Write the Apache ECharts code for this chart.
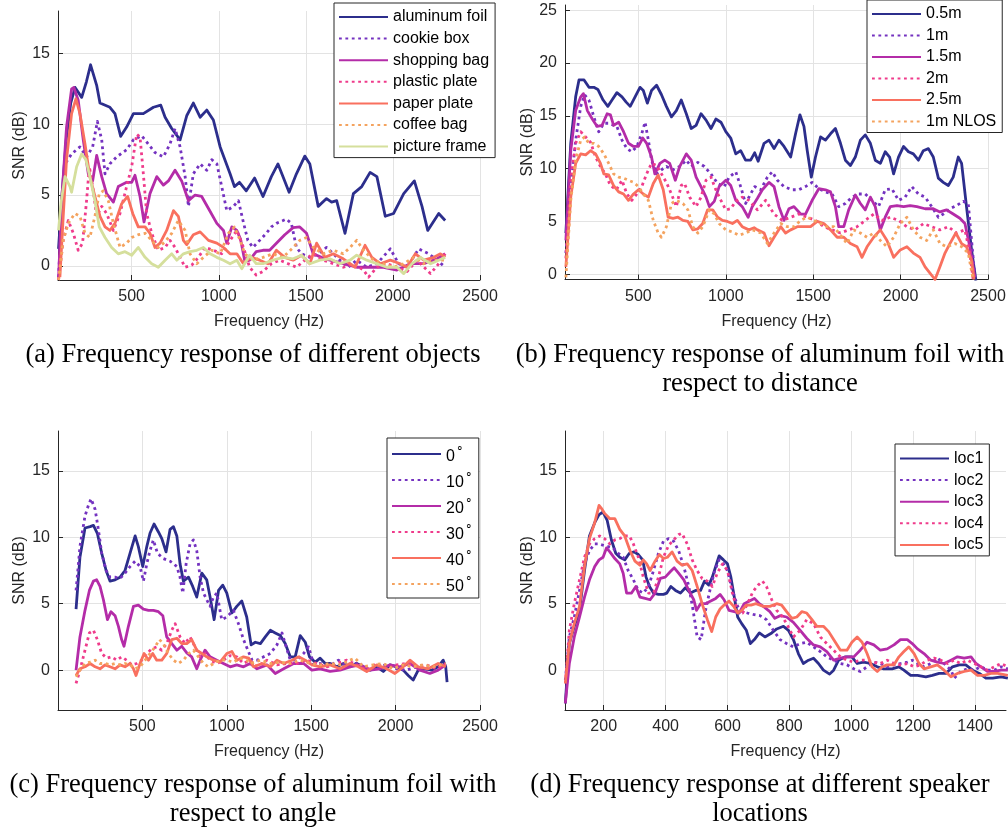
<!DOCTYPE html>
<html>
<head>
<meta charset="utf-8">
<script src="https://cdn.jsdelivr.net/npm/echarts@6/dist/echarts.min.js"></script>
<style>
  html, body { margin: 0; padding: 0; background: #fff; }
  #chart { width: 1008px; height: 832px; }
</style>
</head>
<body>
<div id="chart"></div>
<script>
// ---- (a) different objects: [frequency Hz, SNR dB]
const aluminumFoil = [[80,1.2],[100,5],[125,9],[150,11.5],[175,12.6],[185,12.7],[213,11.9],[240,13],[264,14.2],[299,12.75],[318,11.5],[375,11.2],[404,10.75],[437,9.15],[471,9.8],[510,10.75],[567,10.75],[625,11.2],[667,11.35],[692,10.5],[730,9.7],[778,8.9],[816,10.6],[854,11.5],[893,10.5],[931,11.0],[969,10.3],[1008,8.4],[1065,6.5],[1090,5.6],[1119,5.9],[1158,5.3],[1206,6.2],[1254,4.9],[1302,6.3],[1340,7.2],[1369,6.3],[1404,5.2],[1446,6.5],[1494,7.75],[1523,7.2],[1571,4.2],[1619,4.75],[1648,4.5],[1677,4.6],[1725,2.3],[1773,5.1],[1821,5.6],[1869,6.6],[1908,6.3],[1956,3.5],[2004,3.7],[2062,5.1],[2123,6.0],[2167,4.2],[2200,2.5],[2263,3.7],[2300,3.2]];
const cookieBox = [[80,-0.8],[95,3],[117,7.2],[155,7.9],[203,8.4],[241,7.7],[276,8.4],[303,10.2],[328,8.9],[347,6.5],[375,7.2],[414,7.7],[471,8.2],[510,8.9],[557,9.2],[596,8.6],[634,8.0],[682,7.7],[720,8.6],[749,9.7],[778,8.4],[807,6.3],[826,4.2],[854,6.5],[893,7.2],[931,6.75],[960,7.5],[989,7.2],[1017,5.6],[1046,3.9],[1084,4.2],[1113,4.6],[1139,3.2],[1167,1.8],[1196,1.3],[1235,1.8],[1273,2.3],[1302,2.75],[1331,3.0],[1388,3.3],[1417,3.0],[1446,1.3],[1475,0.85],[1523,0.6],[1571,0.85],[1619,1.3],[1658,0.85],[1696,0.4],[1744,-0.1],[1792,0.4],[1850,-0.1],[1908,0.15],[1985,1.2],[2033,0.15],[2081,-0.1],[2148,1.2],[2206,0.85],[2254,0.4],[2300,-0.1]];
const shoppingBag = [[80,-1],[98,4.6],[126,9.8],[155,12.5],[168,12.6],[193,11.7],[222,8.9],[251,6.5],[276,6.0],[299,7.8],[328,6.3],[356,5.1],[395,4.5],[423,5.6],[471,5.9],[500,5.9],[519,6.4],[548,4.9],[571,3.1],[605,5.1],[644,6.3],[682,5.7],[711,6.0],[749,6.75],[787,6.0],[826,4.6],[864,5.0],[902,4.9],[941,4.05],[989,3.0],[1027,2.5],[1046,1.6],[1075,2.75],[1104,2.5],[1125,1.9],[1150,0.3],[1177,0.4],[1215,1.0],[1254,1.1],[1292,1.1],[1331,1.6],[1379,2.2],[1427,2.7],[1465,2.75],[1504,2.3],[1542,0.85],[1590,0.6],[1638,0.4],[1715,0.15],[1792,-0.1],[1869,-0.1],[1946,-0.1],[2023,-0.3],[2100,0.15],[2177,0.15],[2254,0.5],[2300,0.85]];
const plasticPlate = [[80,-1],[107,1.8],[136,3.2],[165,2.3],[193,1.1],[218,1.6],[241,4.6],[257,7.0],[276,5.6],[299,3.5],[328,4.2],[356,3.7],[395,2.5],[433,3.7],[471,5.6],[500,7.0],[529,9.3],[548,9.1],[567,6.5],[586,3.7],[615,2.3],[653,1.1],[692,1.3],[720,1.8],[749,1.3],[778,0.6],[807,-0.1],[845,0.05],[883,0.6],[921,1.3],[969,1.1],[1017,0.85],[1065,1.8],[1104,2.5],[1142,1.3],[1177,-0.1],[1215,-0.65],[1254,-0.4],[1302,0.15],[1350,0.4],[1398,0.15],[1446,-0.1],[1494,0.4],[1542,0.85],[1600,0.4],[1658,0.15],[1715,-0.1],[1773,0.15],[1831,-0.3],[1860,-0.8],[1908,-0.1],[1965,0.15],[2023,-0.1],[2081,-0.4],[2139,0.4],[2216,-0.55],[2263,0.15],[2300,0.85]];
const paperPlate = [[88,-0.8],[107,3.5],[126,7.5],[155,10.75],[180,11.8],[203,10.75],[232,8.6],[260,6.3],[289,4.9],[318,3.5],[347,2.75],[375,2.5],[404,3.0],[443,4.4],[477,4.9],[506,3.7],[538,2.75],[577,2.75],[605,2.3],[634,1.3],[663,1.6],[701,2.5],[740,3.9],[768,3.5],[797,1.8],[816,1.5],[854,2.2],[893,2.4],[941,1.8],[989,1.6],[1027,1.3],[1065,0.85],[1104,0.85],[1139,0.2],[1187,0.6],[1235,0.4],[1283,0.15],[1331,1.1],[1379,0.6],[1427,0.4],[1475,0.75],[1523,0.15],[1562,1.6],[1610,0.6],[1658,0.85],[1715,0.5],[1783,-0.1],[1840,1.45],[1879,0.6],[1927,0.15],[1985,0.4],[2042,0.15],[2081,-0.1],[2129,0.85],[2177,0.4],[2235,0.6],[2273,0.85],[2300,0.6]];
const coffeeBag = [[80,-1],[107,1.8],[136,3.0],[174,3.7],[203,3.5],[232,2.3],[260,2.0],[289,3.5],[314,5.1],[337,5.3],[366,4.6],[395,3.0],[433,1.3],[471,1.6],[500,2.0],[538,2.2],[577,2.3],[615,1.8],[653,1.3],[692,1.7],[730,2.3],[768,3.2],[807,2.5],[835,0.85],[874,0.15],[912,0.6],[960,1.1],[1008,0.85],[1056,2.3],[1090,2.75],[1123,1.8],[1150,0.85],[1196,0.4],[1254,0.6],[1312,0.85],[1369,0.6],[1427,1.3],[1465,1.8],[1504,2.0],[1542,1.3],[1600,0.85],[1658,1.1],[1715,0.85],[1754,1.3],[1792,1.8],[1831,1.1],[1888,0.4],[1946,0.15],[2004,-0.1],[2062,0.15],[2119,0.6],[2177,0.15],[2235,0.4],[2300,0.4]];
const pictureFrame = [[80,2.5],[95,4.5],[117,6.3],[146,5.6],[155,5.2],[184,7.0],[213,7.9],[237,7.5],[260,6.3],[289,4.6],[314,2.75],[347,2.0],[385,1.3],[423,0.85],[462,1.0],[500,0.75],[538,1.3],[577,0.6],[615,0.15],[653,-0.1],[692,0.4],[730,0.85],[759,0.4],[797,0.85],[835,1.0],[874,1.1],[912,1.3],[950,0.85],[989,0.6],[1027,0.4],[1065,0.15],[1104,0.4],[1132,-0.2],[1177,0.75],[1215,0.15],[1254,0.15],[1312,0.4],[1369,0.6],[1427,0.5],[1475,0.75],[1523,0.15],[1581,0.4],[1638,0.5],[1696,0.15],[1754,0.4],[1792,0.75],[1850,0.4],[1908,0.15],[1965,-0.1],[2023,-0.1],[2062,-0.55],[2110,0.15],[2158,0.6],[2216,0.15],[2263,0.4],[2300,0.6]];

// ---- (b) aluminum foil vs distance
const dist05 = [[85,3.9],[113,12.4],[141,16.8],[160,18.4],[189,18.4],[217,17.7],[245,17.7],[268,17.5],[298,16.5],[325,15.9],[349,16.5],[377,17.2],[406,16.8],[430,16.3],[453,15.9],[481,16.8],[509,17.7],[528,17.4],[551,16.2],[575,17.4],[604,17.9],[632,17.0],[660,15.9],[689,14.9],[717,15.5],[745,16.5],[774,15.2],[802,13.8],[830,14.1],[858,15.2],[887,14.6],[915,13.8],[943,14.7],[972,14.4],[1000,13.5],[1028,12.9],[1057,11.4],[1085,11.7],[1113,10.8],[1142,10.8],[1165,11.5],[1185,10.7],[1219,12.4],[1247,12.7],[1276,11.9],[1304,12.7],[1333,12.1],[1371,11.1],[1399,13.3],[1424,15.1],[1447,14.0],[1466,11.7],[1489,9.2],[1513,11.1],[1542,13.0],[1570,12.7],[1599,13.3],[1627,13.8],[1656,12.4],[1684,10.8],[1713,10.3],[1741,11.1],[1770,12.7],[1798,13.2],[1827,12.4],[1855,10.8],[1884,10.5],[1912,11.6],[1937,11.1],[1960,9.5],[1988,11.1],[2017,12.1],[2045,11.6],[2073,11.4],[2102,10.8],[2130,11.7],[2159,11.9],[2187,11.1],[2216,9.1],[2244,8.7],[2273,8.4],[2301,9.2],[2330,11.1],[2349,10.5],[2377,6.4],[2406,2.3],[2431,-0.6]];
const dist1 = [[85,2],[113,8.3],[141,12.7],[170,15.9],[192,17.0],[217,16.5],[245,14.9],[273,13.5],[302,14.3],[330,14.3],[377,14.0],[406,12.7],[434,11.9],[462,11.6],[491,12.1],[519,13.3],[538,14.4],[557,12.7],[575,10.8],[604,9.5],[632,9.9],[660,10.2],[698,9.9],[736,10.2],[774,10.8],[802,10.2],[840,10.6],[877,10.2],[915,9.5],[953,8.6],[991,8.3],[1019,9.2],[1057,9.7],[1085,8.3],[1113,6.7],[1142,7.6],[1165,8.3],[1200,8.0],[1238,9.2],[1266,9.7],[1295,8.9],[1333,8.3],[1380,8.0],[1418,8.0],[1456,8.3],[1494,8.7],[1532,8.1],[1570,7.8],[1608,7.6],[1646,6.4],[1684,6.7],[1722,7.3],[1760,7.6],[1798,7.6],[1836,7.0],[1874,6.4],[1912,8.0],[1950,8.1],[1988,7.0],[2026,7.3],[2064,8.3],[2102,7.6],[2140,7.3],[2178,6.4],[2216,5.4],[2244,5.7],[2282,6.2],[2320,6.5],[2358,6.9],[2387,6.7],[2406,3.2],[2425,-0.3]];
const dist15 = [[85,3.2],[113,11.7],[141,15.5],[170,16.8],[185,17.1],[208,15.5],[236,14.7],[264,14.0],[292,14.1],[321,15.2],[340,15.1],[358,14.1],[387,14.4],[415,13.5],[443,12.4],[472,12.1],[500,12.1],[525,12.9],[547,12.4],[575,11.1],[594,9.5],[623,10.5],[651,10.8],[679,10.5],[711,8.9],[736,10.2],[774,11.4],[802,10.8],[830,9.2],[858,8.3],[887,7.3],[906,6.4],[934,6.9],[962,8.3],[1000,8.9],[1028,8.4],[1057,7.0],[1094,6.4],[1128,5.4],[1151,6.4],[1181,7.2],[1209,8.0],[1247,8.7],[1276,8.3],[1304,6.4],[1333,5.1],[1361,6.2],[1390,6.4],[1428,5.7],[1456,5.7],[1494,7.0],[1532,8.1],[1570,8.0],[1599,7.8],[1627,6.4],[1646,4.5],[1675,4.5],[1703,6.1],[1741,7.5],[1770,6.7],[1798,6.1],[1827,7.3],[1855,6.4],[1884,4.2],[1912,5.4],[1941,6.4],[1979,6.5],[2017,6.4],[2055,6.5],[2093,6.4],[2140,6.2],[2187,6.2],[2225,5.9],[2263,6.1],[2301,5.7],[2339,5.3],[2368,4.8],[2396,2.6],[2425,-0.3]];
const dist2 = [[85,1.5],[113,8.9],[141,12.4],[170,13.5],[198,13.0],[226,12.5],[255,11.1],[283,10.2],[311,9.5],[340,8.4],[374,8.0],[406,8.9],[434,7.6],[462,7.0],[491,7.6],[519,8.3],[547,9.5],[575,10.5],[604,10.3],[632,9.5],[660,8.7],[689,7.6],[717,6.4],[745,8.4],[764,8.6],[793,7.3],[830,6.4],[858,7.3],[887,8.9],[915,9.2],[943,8.0],[972,7.0],[1000,6.1],[1028,6.2],[1057,6.9],[1094,7.3],[1132,7.0],[1181,6.1],[1228,7.0],[1276,5.7],[1323,5.1],[1371,5.4],[1418,5.7],[1466,5.4],[1513,5.1],[1561,4.5],[1608,4.2],[1656,3.9],[1703,4.2],[1751,4.5],[1798,5.1],[1846,5.7],[1893,5.1],[1941,5.4],[1988,5.1],[2036,4.5],[2083,4.2],[2131,4.8],[2178,4.5],[2225,4.2],[2273,4.5],[2320,3.9],[2368,4.2],[2396,2.0],[2415,-0.5]];
const dist25 = [[85,0.7],[113,7.3],[141,10.5],[170,11.4],[198,11.3],[226,11.7],[255,11.4],[283,10.5],[302,9.5],[330,9.4],[358,8.4],[387,7.8],[415,7.6],[443,7.0],[472,7.6],[500,8.0],[528,7.6],[557,7.3],[585,8.6],[613,9.4],[642,8.0],[670,5.4],[698,5.3],[726,5.4],[755,5.1],[783,5.0],[811,4.2],[840,4.3],[868,4.8],[896,6.1],[925,6.1],[953,5.4],[981,5.1],[1009,5.0],[1038,4.8],[1066,5.1],[1094,4.5],[1132,4.2],[1162,4.4],[1181,4.2],[1219,3.9],[1247,2.7],[1276,3.5],[1314,4.5],[1342,3.9],[1371,4.2],[1409,4.5],[1447,4.5],[1485,4.5],[1523,5.0],[1561,4.8],[1599,4.2],[1637,3.5],[1675,3.5],[1713,2.9],[1751,2.6],[1779,1.6],[1808,2.6],[1846,3.5],[1884,4.2],[1922,3.2],[1960,1.6],[1998,2.3],[2036,2.6],[2073,2.0],[2111,1.6],[2140,0.7],[2168,0.1],[2197,-0.5],[2225,0.7],[2254,2.0],[2282,2.9],[2316,3.9],[2349,2.9],[2377,2.6],[2406,1.3],[2420,-0.5]];
const dist1Nlos = [[85,-0.3],[113,7.0],[141,10.8],[170,12.7],[192,13.0],[217,12.4],[245,12.4],[273,12.1],[302,11.4],[330,10.5],[358,9.5],[387,9.2],[415,9.1],[443,8.9],[472,8.7],[500,8.3],[528,7.6],[557,7.0],[585,5.1],[613,3.9],[632,3.5],[660,4.5],[689,6.7],[717,7.0],[755,6.7],[783,6.1],[811,4.5],[840,3.9],[868,4.5],[906,6.1],[934,5.7],[962,4.8],[1000,4.2],[1038,4.0],[1075,3.7],[1113,3.9],[1151,4.2],[1200,3.9],[1238,2.9],[1276,3.9],[1314,4.8],[1352,4.5],[1390,4.5],[1428,5.1],[1466,5.4],[1504,5.1],[1542,4.8],[1580,4.5],[1618,4.5],[1656,3.7],[1694,2.9],[1732,4.2],[1770,3.9],[1808,3.5],[1846,3.9],[1884,3.2],[1922,2.6],[1960,3.5],[1998,4.8],[2036,5.4],[2073,4.2],[2111,3.5],[2149,3.2],[2187,4.2],[2225,2.9],[2263,2.6],[2311,2.9],[2349,2.6],[2387,2.0],[2415,-0.5]];

// ---- (c) aluminum foil vs angle
const angle0 = [[107,4.6],[130,8.5],[160,10.7],[190,10.8],[210,10.9],[233,10.3],[259,8.8],[285,7.5],[308,6.7],[338,6.8],[368,7.0],[397,7.5],[427,8.8],[457,10.1],[476,9.3],[502,7.8],[526,9.3],[545,10.3],[569,11.0],[595,10.4],[615,9.9],[640,8.9],[664,10.6],[684,10.8],[704,10.1],[723,8.0],[743,6.7],[773,7.0],[798,6.3],[822,5.5],[852,7.3],[881,6.8],[901,5.5],[925,3.8],[951,6.0],[976,6.4],[1000,5.8],[1030,4.3],[1059,4.8],[1089,5.2],[1118,4.0],[1144,1.9],[1169,2.1],[1199,2.0],[1228,2.5],[1258,3.0],[1287,2.8],[1317,2.6],[1346,2.0],[1376,1.0],[1405,1.0],[1435,2.6],[1465,2.1],[1490,1.0],[1524,0.6],[1553,0.9],[1583,0.5],[1612,0.5],[1652,0.25],[1691,0.5],[1730,0.25],[1770,0.5],[1809,0.25],[1849,0],[1888,0.25],[1927,-0.1],[1967,0.4],[2006,0.25],[2045,0],[2075,-0.4],[2104,-0.75],[2134,0],[2173,0.1],[2213,0],[2252,0.25],[2282,0.75],[2297,0.25],[2305,-0.9]];
const angle10 = [[107,6.0],[130,9.3],[160,11.6],[180,12.4],[196,12.9],[220,12.1],[239,10.6],[259,8.8],[285,7.5],[308,7.0],[338,7.0],[368,6.9],[397,7.3],[427,7.8],[457,8.2],[486,7.8],[506,6.7],[526,8.0],[545,9.0],[565,9.8],[589,8.8],[624,8.4],[664,8.2],[704,7.8],[723,7.0],[739,5.8],[759,8.0],[782,9.5],[802,9.8],[822,9.0],[842,7.0],[862,5.8],[881,5.3],[901,4.8],[921,5.5],[941,5.8],[970,3.8],[1000,4.0],[1039,4.5],[1069,3.5],[1099,2.3],[1128,1.4],[1150,0.75],[1179,0.75],[1218,1.0],[1258,1.25],[1297,1.9],[1327,2.8],[1346,2.0],[1376,0.75],[1415,0.75],[1455,1.25],[1484,1.75],[1514,0.5],[1553,0.5],[1593,0.4],[1632,0.5],[1661,0.75],[1701,0.4],[1750,0.5],[1789,0.5],[1829,0],[1888,0.25],[1947,0.4],[2006,0.1],[2065,0],[2124,0.25],[2183,0.1],[2242,0.25],[2297,0.4]];
const angle20 = [[107,0],[130,2.5],[160,4.5],[186,6.0],[210,6.7],[229,6.8],[249,6.3],[269,5.3],[293,3.8],[314,4.4],[338,4.1],[358,3.3],[377,2.3],[391,1.8],[417,3.3],[447,4.8],[476,4.9],[506,4.6],[536,4.5],[565,4.5],[595,4.4],[621,4.1],[644,2.5],[674,2.0],[704,1.5],[733,1.8],[763,1.3],[792,1.0],[822,0.1],[842,0.75],[871,1.5],[901,1.0],[941,0.75],[980,0.5],[1020,0.25],[1059,0.4],[1099,0.25],[1138,0.5],[1179,0.1],[1238,0.4],[1287,-0.25],[1337,0.1],[1396,0.5],[1455,0.5],[1504,0],[1553,0.1],[1612,-0.1],[1671,0],[1730,0.25],[1789,0.4],[1849,0],[1908,0.1],[1967,0.4],[2026,0.25],[2085,0.5],[2144,0],[2203,-0.25],[2252,0],[2297,0.4]];
const angle30 = [[107,-1.0],[130,0],[160,1.5],[186,2.8],[210,3.0],[233,2.3],[259,1.25],[289,0.9],[318,1.0],[348,0.75],[377,1.0],[407,0.75],[437,0.4],[466,0.5],[496,0.75],[526,1.25],[555,1.6],[585,1.75],[615,1.5],[644,2.0],[674,3.0],[694,3.5],[723,2.5],[753,2.0],[782,2.5],[812,1.75],[842,1.0],[871,1.25],[901,0.75],[941,0.5],[980,0.75],[1020,1.1],[1059,1.0],[1099,0.5],[1138,0.75],[1179,0.25],[1238,0.75],[1297,0.4],[1356,0.5],[1415,0.5],[1474,0.75],[1533,0.5],[1593,0.25],[1652,0.5],[1711,0.75],[1770,0.4],[1829,0],[1888,0.5],[1947,0.1],[2006,0.4],[2065,0.5],[2124,0.25],[2183,0.4],[2242,0.1],[2297,0.5]];
const angle40 = [[107,-0.4],[130,0.1],[160,0.25],[190,0.5],[220,0.25],[249,0.1],[279,0.4],[308,0.25],[338,0.1],[368,0.4],[397,0.25],[427,0.5],[447,0.1],[462,-0.4],[486,0.5],[510,1.25],[536,0.75],[561,1.25],[585,0.75],[615,0.75],[644,1.25],[674,2.3],[704,2.4],[733,2.0],[763,2.0],[792,2.3],[822,1.5],[852,1.25],[881,1.0],[921,0.75],[960,0.6],[1000,1.25],[1030,1.4],[1059,0.75],[1099,1.0],[1130,0.9],[1159,0.25],[1209,0.5],[1258,0.25],[1297,0.75],[1337,0.5],[1386,0.75],[1425,1.0],[1465,0.75],[1504,0.4],[1553,0.25],[1612,0.4],[1671,0.1],[1730,0.5],[1780,0.25],[1829,-0.1],[1888,0.4],[1947,0.1],[1996,-0.25],[2045,0.25],[2085,0.75],[2134,0.25],[2193,0.1],[2252,0.5],[2297,0.25]];
const angle50 = [[107,-0.5],[130,0],[160,0.5],[190,0.6],[220,0.75],[249,0.5],[279,0.5],[308,0.4],[338,0.5],[368,0.4],[397,0.5],[427,0.4],[457,0.1],[486,0.25],[516,0.75],[545,1.25],[575,1.75],[601,2.3],[624,2.0],[654,1.25],[684,0.75],[713,0.5],[743,0.75],[773,1.25],[802,1.5],[832,1.0],[862,0.5],[891,0.25],[921,0.5],[960,0.75],[1000,0.75],[1039,0.6],[1079,0.9],[1118,0.75],[1140,0.5],[1199,0.75],[1258,0.5],[1317,0.6],[1376,0.5],[1435,0.75],[1494,0.5],[1553,0.4],[1612,0.5],[1671,0.4],[1730,0.75],[1760,0.9],[1809,0.25],[1868,0.4],[1927,0.5],[1986,0.1],[2045,0.4],[2104,0.25],[2163,0.4],[2222,0.25],[2297,0.5]];

// ---- (d) speaker locations
const loc1 = [[76,-2.5],[89,2.0],[105,3.3],[122,4.5],[138,7.5],[154,10.1],[171,11.1],[185,11.7],[198,11.9],[211,11.3],[225,9.8],[239,8.8],[252,8.5],[268,8.3],[283,8.8],[298,8.9],[312,8.7],[326,8.3],[337,7.0],[348,6.3],[361,5.8],[377,5.7],[393,5.7],[404,5.8],[417,6.3],[432,6.0],[448,5.8],[464,6.2],[480,5.8],[497,6.0],[513,6.0],[526,6.7],[540,6.4],[551,7.0],[562,7.8],[573,8.6],[587,8.3],[600,8.0],[611,7.0],[622,5.5],[633,4.0],[646,3.5],[661,3.0],[674,2.0],[687,2.3],[703,2.8],[721,2.5],[743,2.8],[759,3.1],[781,3.3],[797,3.0],[813,2.3],[829,1.25],[845,0.5],[862,0.75],[878,0.9],[894,0.5],[910,0],[930,-0.3],[943,0],[959,0.75],[981,1.0],[1002,1.0],[1019,0.5],[1040,0.6],[1062,0.5],[1084,0.25],[1105,0.1],[1132,0.1],[1154,0.25],[1170,0],[1192,-0.4],[1214,-0.4],[1241,-0.5],[1262,-0.4],[1284,-0.25],[1306,-0.25],[1327,0.25],[1349,0.4],[1370,0.4],[1392,0],[1414,-0.25],[1435,-0.6],[1457,-0.6],[1484,-0.5],[1506,-0.6]];
const loc2 = [[76,-0.75],[89,2.5],[105,4.0],[122,6.0],[138,8.0],[154,9.0],[171,9.5],[185,9.5],[198,9.4],[214,9.3],[230,9.2],[247,8.8],[263,8.5],[279,7.5],[296,6.8],[312,6.0],[328,5.8],[345,6.3],[361,7.5],[377,8.8],[393,9.7],[410,9.9],[426,9.7],[442,9.0],[459,7.8],[475,6.3],[489,4.5],[502,2.5],[515,2.3],[529,4.5],[546,6.3],[559,7.5],[573,8.3],[587,8.0],[600,7.5],[616,6.0],[633,4.8],[649,4.4],[665,4.3],[683,4.2],[705,4.1],[726,3.8],[748,3.0],[770,2.3],[791,2.0],[813,1.75],[835,2.0],[856,2.1],[878,1.75],[900,1.4],[921,1.0],[943,0.75],[965,0.5],[986,0.4],[1008,0.1],[1029,-0.1],[1051,0.25],[1073,0.6],[1094,0.5],[1116,0.25],[1138,0.4],[1159,0.5],[1181,0.6],[1197,0.75],[1214,0.5],[1235,0.25],[1257,0.5],[1278,0.9],[1300,0.5],[1322,0],[1333,-0.6],[1354,-0.1],[1376,0.1],[1397,0],[1419,0.25],[1441,0],[1462,0],[1484,0.25],[1506,0.1]];
const loc3 = [[76,-2.5],[89,0.5],[105,2.5],[122,4.0],[138,5.5],[154,6.8],[171,7.8],[185,8.3],[198,8.5],[209,9.2],[220,8.9],[236,8.4],[252,8.0],[263,7.3],[274,5.8],[290,5.8],[304,6.3],[317,5.5],[334,5.4],[350,5.3],[366,5.8],[383,6.9],[399,7.0],[415,7.4],[428,7.7],[442,7.3],[459,6.8],[475,6.0],[491,5.3],[500,4.5],[513,5.0],[529,5.0],[546,5.2],[562,5.4],[576,5.7],[589,5.3],[605,4.5],[622,4.4],[638,4.3],[654,5.0],[671,5.2],[687,5.4],[703,5.0],[716,4.8],[737,4.4],[753,3.9],[770,4.1],[791,4.0],[813,3.6],[835,3.0],[856,2.4],[878,1.9],[900,1.75],[921,1.4],[943,0.75],[965,0.9],[986,1.0],[1008,1.0],[1029,1.5],[1051,2.1],[1073,1.9],[1094,1.5],[1116,1.6],[1138,1.9],[1159,2.3],[1181,2.3],[1197,2.0],[1214,1.6],[1235,1.25],[1257,0.75],[1278,0.6],[1300,0.5],[1322,0.75],[1343,1.0],[1365,0.9],[1387,1.0],[1403,0.5],[1419,0.25],[1441,-0.1],[1462,-0.1],[1484,0],[1506,0]];
const loc4 = [[76,-1.0],[89,3.0],[105,5.0],[122,6.8],[138,8.5],[154,9.5],[171,9.9],[187,10.1],[203,9.9],[220,9.5],[236,9.8],[252,9.9],[268,10.1],[283,10.1],[296,9.5],[312,8.5],[328,7.0],[345,5.8],[361,5.8],[377,7.0],[393,8.5],[410,9.4],[426,9.8],[442,10.2],[453,10.3],[470,9.5],[486,8.3],[502,7.5],[518,6.9],[535,6.7],[551,6.3],[567,7.3],[584,8.0],[600,7.5],[616,5.8],[633,4.4],[649,4.3],[665,5.0],[682,5.9],[699,6.4],[713,6.7],[726,6.3],[743,5.3],[759,4.5],[775,4.1],[791,3.5],[813,2.5],[835,3.0],[856,3.8],[878,3.5],[900,2.5],[921,2.0],[943,1.5],[965,1.0],[986,0.75],[1008,0.6],[1029,0.75],[1051,0.75],[1073,0.6],[1094,0.5],[1116,0.75],[1138,0.5],[1159,0.4],[1181,0.5],[1203,0.25],[1224,0.4],[1246,0.75],[1268,0.9],[1289,0.75],[1311,0.5],[1332,0.75],[1354,0.5],[1376,0.75],[1397,0.5],[1419,0.25],[1441,0],[1462,0.25],[1484,0.5],[1506,0.25]];
const loc5 = [[76,-1.0],[89,2.0],[105,3.5],[122,4.8],[138,7.8],[154,9.9],[171,11.1],[185,12.4],[192,12.2],[203,11.8],[220,11.4],[236,11.4],[252,10.6],[268,10.1],[285,9.0],[301,8.2],[317,7.9],[328,8.3],[339,8.0],[350,7.5],[366,8.2],[380,8.7],[393,8.4],[406,8.5],[421,8.9],[437,8.2],[453,7.9],[470,8.0],[486,7.5],[502,6.3],[518,5.0],[535,3.8],[549,2.9],[562,4.0],[576,4.6],[589,4.9],[605,5.2],[620,4.8],[633,4.3],[646,4.5],[661,4.9],[676,4.9],[692,5.0],[716,4.8],[737,4.8],[759,5.0],[775,4.9],[791,4.4],[808,3.9],[824,4.0],[840,4.4],[856,4.3],[873,3.8],[889,3.3],[910,3.3],[927,2.9],[943,2.3],[965,1.5],[986,1.5],[1002,2.1],[1019,2.5],[1035,2.1],[1051,1.25],[1067,0.25],[1084,-0.1],[1100,0.25],[1116,0.4],[1138,0.4],[1154,1.0],[1170,1.4],[1186,1.75],[1203,1.25],[1219,0.5],[1235,0.1],[1257,0.25],[1278,0.4],[1300,0],[1322,-0.5],[1343,-0.25],[1365,-0.1],[1387,0],[1408,-0.4],[1430,-0.4],[1451,-0.25],[1473,-0.25],[1506,-0.4]];

// ---- labels and ticks
const namesA = ['aluminum foil', 'cookie box', 'shopping bag', 'plastic plate', 'paper plate', 'coffee bag', 'picture frame'];
const namesB = ['0.5m', '1m', '1.5m', '2m', '2.5m', '1m NLOS'];
const anglesC = ['0', '10', '20', '30', '40', '50'];
const namesD = ['loc1', 'loc2', 'loc3', 'loc4', 'loc5'];
const ticksY = [0, 5, 10, 15];
const ticksYB = [0, 5, 10, 15, 20, 25];
const ticksX = [500, 1000, 1500, 2000, 2500];
const ticksXD = [200, 400, 600, 800, 1000, 1200, 1400];
const captions = [
  '(a) Frequency response of different objects',
  '(b) Frequency response of aluminum foil with\nrespect to distance',
  '(c) Frequency response of aluminum foil with\nrespect to angle',
  '(d) Frequency response at different speaker\nlocations'
];

const palette = ['#2c2e8c', '#7432c0', '#b42ca8', '#ef3b8b', '#f9705f', '#f4a35f', '#d5df9c'];
const SANS = '"Liberation Sans", Arial, Helvetica, sans-serif';
const SERIF = '"Liberation Serif", "Times New Roman", serif';
const INK = '#262626';

const chart = echarts.init(document.getElementById('chart'), null, { renderer: 'canvas' });

function lineSeries(name, data, idx, k) {
  const dotted = k % 2 === 1;
  return {
    name: name, type: 'line', data: data,
    xAxisIndex: idx, yAxisIndex: idx,
    showSymbol: false, symbol: 'none', animation: false, clip: true,
    lineStyle: { color: palette[k], width: 2.8, type: dotted ? [2.8, 3.6] : 'solid', cap: 'butt', join: 'round' },
    itemStyle: { color: palette[k] },
    emphasis: { disabled: true }
  };
}

const plainNumber = v => String(v);

function xAxis(idx, min, max, ticks) {
  return {
    type: 'value', gridIndex: idx, min: min, max: max,
    name: 'Frequency (Hz)', nameLocation: 'middle', nameGap: 34,
    nameTextStyle: { fontFamily: SANS, fontSize: 16, color: INK },
    axisLine: { show: true, onZero: false, lineStyle: { color: INK, width: 1 } },
    axisTick: { show: true, inside: true, length: 5, customValues: ticks, lineStyle: { color: INK } },
    axisLabel: { customValues: ticks, formatter: plainNumber, margin: 9, fontFamily: SANS, fontSize: 16, color: INK },
    splitLine: { show: true, lineStyle: { color: '#e3e3e3', width: 1 } },
    minorTick: { show: false }
  };
}

function yAxis(idx, min, max, ticks, gap) {
  return {
    type: 'value', gridIndex: idx, min: min, max: max,
    name: 'SNR (dB)', nameLocation: 'middle', nameGap: gap,
    nameTextStyle: { fontFamily: SANS, fontSize: 16, color: INK },
    axisLine: { show: true, onZero: false, lineStyle: { color: INK, width: 1 } },
    axisTick: { show: true, inside: true, length: 5, customValues: ticks, lineStyle: { color: INK } },
    axisLabel: { customValues: ticks, formatter: plainNumber, margin: 8, fontFamily: SANS, fontSize: 16, color: INK },
    splitLine: { show: true, lineStyle: { color: '#e3e3e3', width: 1 } }
  };
}

function legend(names, left, top, gap, extra) {
  return Object.assign({
    data: names, orient: 'vertical', left: left, top: top,
    itemWidth: 49, itemHeight: 14, itemGap: gap,
    padding: [6, 6, 3, 4],
    borderColor: INK, borderWidth: 1, borderRadius: 0, backgroundColor: '#ffffff',
    selectedMode: false,
    itemStyle: { opacity: 0 },
    textStyle: { fontFamily: SANS, fontSize: 16, color: '#000' }
  }, extra || {});
}

const degNames = anglesC.map(a => a + '°');
const seriesA = [aluminumFoil, cookieBox, shoppingBag, plasticPlate, paperPlate, coffeeBag, pictureFrame];
const seriesB = [dist05, dist1, dist15, dist2, dist25, dist1Nlos];
const seriesC = [angle0, angle10, angle20, angle30, angle40, angle50];
const seriesD = [loc1, loc2, loc3, loc4, loc5];

const series = []
  .concat(seriesA.map((d, k) => lineSeries(namesA[k], d, 0, k)))
  .concat(seriesB.map((d, k) => lineSeries(namesB[k], d, 1, k)))
  .concat(seriesC.map((d, k) => lineSeries(degNames[k], d, 2, k)))
  .concat(seriesD.map((d, k) => lineSeries(namesD[k], d, 3, k)));

// caption anchor: centre x, top y of first line
const captionPos = [[253, 340], [760, 340], [253, 770], [760, 770]];

const option = {
  backgroundColor: '#ffffff',
  animation: false,
  grid: [
    { left: 58, top: 11, width: 422, height: 269, outerBoundsMode: 'none', containLabel: false },
    { left: 565, top: 5, width: 423, height: 274.5, outerBoundsMode: 'none', containLabel: false },
    { left: 58, top: 431, width: 422, height: 279, outerBoundsMode: 'none', containLabel: false },
    { left: 565, top: 431, width: 441, height: 279, outerBoundsMode: 'none', containLabel: false }
  ],
  xAxis: [
    xAxis(0, 77, 2500, ticksX),
    xAxis(1, 80, 2500, ticksX),
    xAxis(2, 0, 2500, ticksX),
    xAxis(3, 75, 1500, ticksXD)
  ],
  yAxis: [
    yAxis(0, -1, 18, ticksY, 30.5),
    yAxis(1, -0.5, 25.5, ticksYB, 29),
    yAxis(2, -3, 18, ticksY, 30.5),
    yAxis(3, -3, 18, ticksY, 29)
  ],
  legend: [
    legend(namesA, 334, 3, 5.6),
    legend(namesB, 867, 0, 5.5),
    legend(degNames, 387, 438, 4, {
      padding: [5, 6, 3, 4],
      formatter: function (n) { return '{n|' + n.replace('°', '') + '}{d|∘}'; },
      textStyle: {
        fontFamily: SANS, fontSize: 16, color: '#000',
        rich: {
          n: { fontFamily: SANS, fontSize: 16, color: '#000', lineHeight: 22, verticalAlign: 'bottom' },
          d: { fontFamily: SANS, fontSize: 12, color: '#000', lineHeight: 22, verticalAlign: 'top', padding: [0, 0, 0, 1] }
        }
      }
    }),
    legend(namesD, 895, 444, 5.6, { padding: [6.5, 6, 3, 4] })
  ],
  graphic: captions.map((t, i) => ({
    type: 'text', x: captionPos[i][0], y: captionPos[i][1],
    style: {
      text: t, fill: '#000', font: '26.5px ' + SERIF,
      align: 'center', verticalAlign: 'top', lineHeight: 29.5
    }
  })),
  series: series
};

chart.setOption(option);
</script>
</body>
</html>
